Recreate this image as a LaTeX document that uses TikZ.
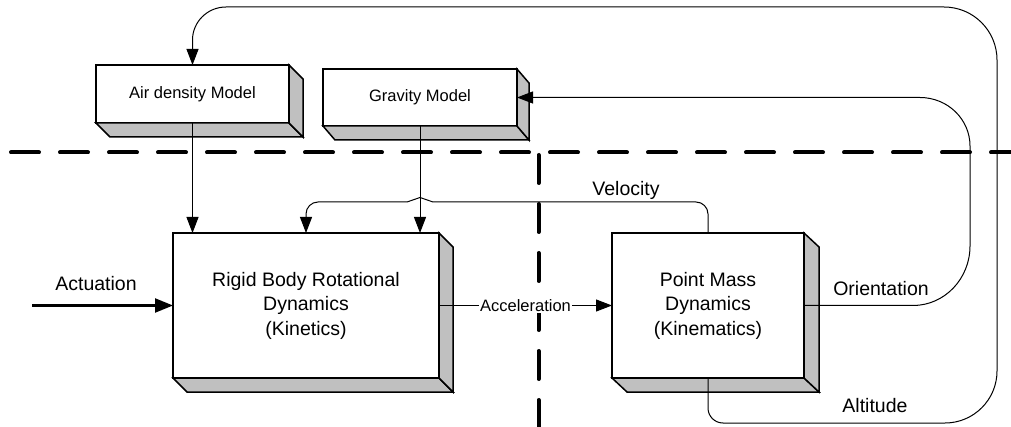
\documentclass[tikz,border=0pt]{standalone}
\usepackage{fontspec}
\setmainfont{Liberation Sans}
\usetikzlibrary{arrows.meta,calc}
\definecolor{boxgray}{HTML}{C0C0C0}
\newcommand\boxdepth[3]{%
  \draw[side] (#1.south west) -- (#1.south east) -- ++(#2,#3) -- ($(#1.south west)+(#2,#3)$) -- cycle;
  \draw[side] (#1.north east) -- ++(#2,#3) -- ($(#1.south east)+(#2,#3)$) -- (#1.south east) -- cycle;}
\begin{document}
\begin{tikzpicture}[x=1pt,y=-1pt,
  front/.style={draw,line width=1.5pt,fill=white,inner sep=0pt,outer sep=0pt,align=center,font=\fontsize{19.5}{24.5}\selectfont},
  side/.style={draw,line width=1.5pt,fill=boxgray,line join=miter},
  conn/.style={line width=1pt,-{Triangle[length=16pt,width=12pt]}},
  divider/.style={line width=4pt,line cap=round,dash pattern=on 28pt off 21pt},
  lbl/.style={font=\fontsize{19.5}{24}\selectfont,inner sep=0pt},
  small/.style={font=\fontsize{16.5}{20}\selectfont}
]
\useasboundingbox (0,0) rectangle (1011,427);

% dividers
\coordinate (hl) at (11,152.5);
\coordinate (hr) at (1013,152.5);
\draw[divider] (hl) -- (hr);
\coordinate (vt) at (538.5,155);
\coordinate (vb) at (538.5,432);
\draw[divider] (vt) -- (vb);

% boxes
\node[front,small,minimum width=193pt,minimum height=58pt] (air) at (192.5,94) {Air density Model};
\boxdepth{air}{14}{14}
\node[front,small,minimum width=194pt,minimum height=57pt] (grav) at (420,97.5) {Gravity Model};
\boxdepth{grav}{12}{14}
\node[front,minimum width=266pt,minimum height=145pt] (rigid) at (306,305.5) {Rigid Body Rotational\\Dynamics\\(Kinetics)};
\boxdepth{rigid}{14}{14}
\node[front,minimum width=192pt,minimum height=145pt] (pm) at (708,305.5) {Point Mass\\Dynamics\\(Kinematics)};
\boxdepth{pm}{15}{14}

% connectors
\draw[conn] (air.south) -- (air.south |- rigid.north);
\draw[conn] (grav.south) -- (grav.south |- rigid.north);
\draw[conn] (pm.north) -- (708,214) .. controls (708,207.4) and (702.6,202) .. (696,202) -- (433,202) -- (420,197.5) -- (407,202) -- (318,202) .. controls (311.4,202) and (306,207.4) .. (306,214) -- (rigid.north);

\coordinate (actin) at (32,305.5);
\draw[line width=2.2pt,-{Triangle[length=18pt,width=14pt]}] (actin) -- (rigid.west);
\node[lbl] (actlbl) at (96,284) {Actuation};

\draw[conn] (rigid.east) -- node[small,fill=white,inner sep=1.5pt] (acclbl) {Acceleration} (pm.west);

\draw[conn] (pm.east) -- (913,305.5) .. controls (944.5,305.5) and (970,278.8) .. (970,246) -- (970,146) .. controls (970,119.2) and (947.6,97.5) .. (920,97.5) -- (grav.east);

\draw[conn] (pm.south) -- (708,408) .. controls (708,416.3) and (714.7,423) .. (723,423) -- (945,423) .. controls (973.7,423) and (997,399.7) .. (997,371) -- (997,60) .. controls (997,30.7) and (973.3,7) .. (944,7) -- (226,7) .. controls (207.5,7) and (192.5,21.8) .. (192.5,40) -- (air.north);

\node[lbl] (vellbl) at (626,190) {Velocity};
\node[lbl] (orilbl) at (881,289) {Orientation};
\node[lbl] (altlbl) at (875,406) {Altitude};
\end{tikzpicture}
\end{document}
